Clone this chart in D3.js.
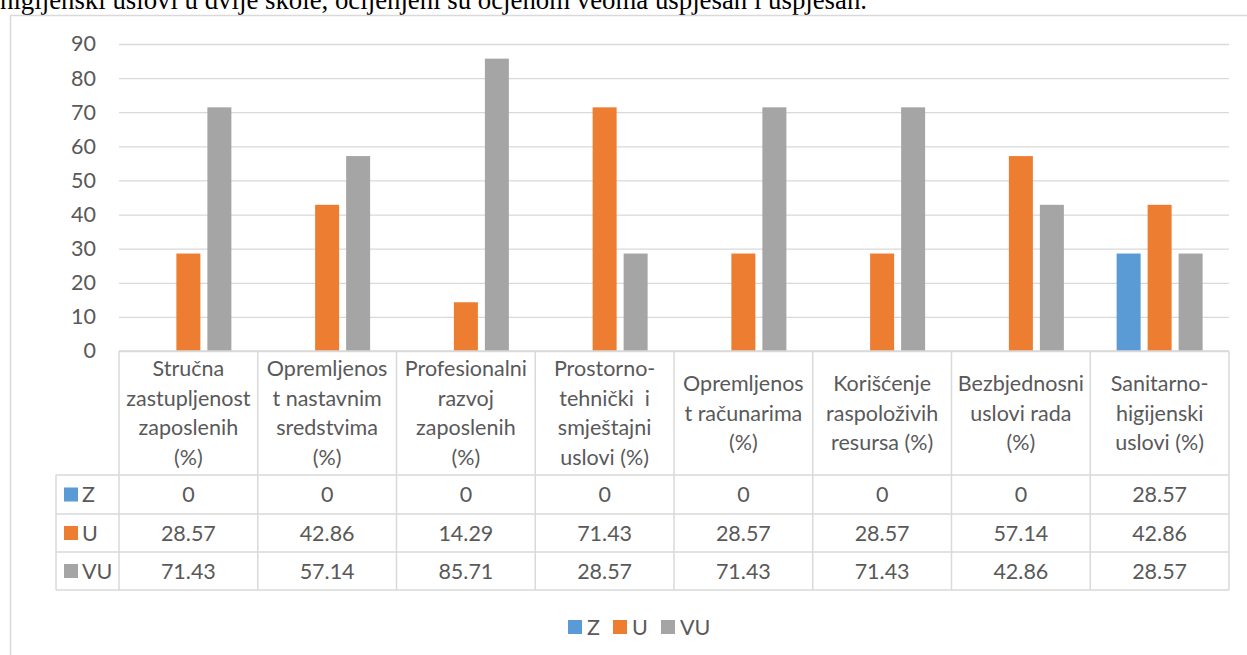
<!DOCTYPE html>
<html><head><meta charset="utf-8">
<script src="https://cdn.jsdelivr.net/npm/d3@7"></script>
<style>html,body{margin:0;padding:0;background:#fff;overflow:hidden}svg{display:block}</style>
</head><body>
<script>
const introText = "higijenski uslovi u dvije škole, ocijenjeni su ocjenom veoma uspješan i uspješan.";
const categories = [
  "Stručna\nzastupljenost\nzaposlenih\n(%)",
  "Opremljenos\nt nastavnim\nsredstvima\n(%)",
  "Profesionalni\nrazvoj\nzaposlenih\n(%)",
  "Prostorno-\ntehnički  i\nsmještajni\nuslovi (%)",
  "Opremljenos\nt računarima\n(%)",
  "Korišćenje\nraspoloživih\nresursa (%)",
  "Bezbjednosni\nuslovi rada\n(%)",
  "Sanitarno-\nhigijenski\nuslovi (%)"
];
const seriesNames = ["Z", "U", "VU"];
const valuesZ  = [0, 0, 0, 0, 0, 0, 0, 28.57];
const valuesU  = [28.57, 42.86, 14.29, 71.43, 28.57, 28.57, 57.14, 42.86];
const valuesVU = [71.43, 57.14, 85.71, 28.57, 71.43, 71.43, 42.86, 28.57];
const yTicks = [0, 10, 20, 30, 40, 50, 60, 70, 80, 90];
const seriesColors = ["#5b9bd5", "#ed7d31", "#a5a5a5"];

const seriesValues = [valuesZ, valuesU, valuesVU];
const W = 1247, H = 655;
const FONT = "Lato, 'Open Sans', sans-serif";
const FS = 21.5;
const TXT = "#595959", GRID = "#d9d9d9";

const svg = d3.select("body").append("svg").attr("width", W).attr("height", H);

// intro text (cut off at top, as in the source page)
svg.append("text").attr("x", 0).attr("y", 9)
  .attr("font-family", "'Liberation Serif', serif").attr("font-size", 26.8)
  .attr("fill", "#000").text(introText);

// chart frame
svg.append("rect").attr("x", 10.5).attr("y", 15.5).attr("width", 1260).attr("height", 700)
  .attr("fill", "none").attr("stroke", GRID).attr("stroke-width", 1.5);

const plotL = 119, plotR = 1229, yTop = 44, yZero = 351;
const x0 = d3.scaleBand().domain(categories).range([plotL, plotR]).padding(0);
const x1 = d3.scaleBand().domain(seriesNames).range([0, x0.bandwidth()])
  .paddingInner(7 / 31).paddingOuter(0.851);
const y = d3.scaleLinear().domain([0, 90]).range([yZero, yTop]);

// gridlines + y labels
const yAxis = d3.axisLeft(y).tickValues(yTicks).tickSize(-(plotR - plotL)).tickPadding(23);
const gy = svg.append("g").attr("transform", `translate(${plotL},0)`).call(yAxis);
gy.select(".domain").remove();
gy.selectAll(".tick line").attr("stroke", GRID).attr("stroke-width", 1.3);
gy.selectAll(".tick text").attr("fill", TXT).attr("font-family", FONT).attr("font-size", FS);

// bars
const groups = svg.append("g").selectAll("g").data(categories).join("g")
  .attr("transform", d => `translate(${x0(d)},0)`);
groups.selectAll("rect").data((d, i) => seriesNames.map((s, j) => ({ s, v: seriesValues[j][i], c: seriesColors[j] })))
  .join("rect")
  .attr("x", d => x1(d.s)).attr("width", x1.bandwidth())
  .attr("y", d => y(d.v)).attr("height", d => yZero - y(d.v))
  .attr("fill", d => d.c);

// data table
const rowY = [351, 475, 514, 552, 590];
const legendL = 56;
const tbl = svg.append("g");
tbl.append("line").attr("x1", plotL).attr("x2", plotR).attr("y1", rowY[0]).attr("y2", rowY[0]);
rowY.slice(1).forEach(yy => tbl.append("line").attr("x1", legendL).attr("x2", plotR).attr("y1", yy).attr("y2", yy));
tbl.append("line").attr("x1", legendL).attr("x2", legendL).attr("y1", rowY[1]).attr("y2", rowY[4]);
categories.forEach(c => tbl.append("line").attr("x1", x0(c)).attr("x2", x0(c)).attr("y1", rowY[0]).attr("y2", rowY[4]));
tbl.append("line").attr("x1", plotR).attr("x2", plotR).attr("y1", rowY[0]).attr("y2", rowY[4]);
tbl.selectAll("line").attr("stroke", GRID).attr("stroke-width", 1.5);

// header labels
const lineH = 29.4;
categories.forEach(c => {
  const lines = c.split("\n");
  const cx = x0(c) + x0.bandwidth() / 2;
  const mid = (rowY[0] + rowY[1]) / 2;
  const t = tbl.append("text").attr("text-anchor", "middle").attr("fill", TXT)
    .attr("font-family", FONT).attr("font-size", FS).attr("xml:space", "preserve");
  lines.forEach((ln, k) => {
    t.append("tspan").attr("x", cx)
      .attr("y", mid + (k - (lines.length - 1) / 2) * lineH)
      .attr("dy", "0.35em").text(ln);
  });
});

// rows
seriesNames.forEach((s, j) => {
  const cy = (rowY[j + 1] + rowY[j + 2]) / 2;
  tbl.append("rect").attr("x", 64).attr("y", cy - 7).attr("width", 14).attr("height", 14).attr("fill", seriesColors[j]);
  tbl.append("text").attr("x", 82).attr("y", cy).attr("dy", "0.35em").attr("fill", TXT)
    .attr("font-family", FONT).attr("font-size", FS).text(s);
  categories.forEach((c, i) => {
    tbl.append("text").attr("x", x0(c) + x0.bandwidth() / 2).attr("y", cy).attr("dy", "0.35em")
      .attr("text-anchor", "middle").attr("fill", TXT).attr("font-family", FONT).attr("font-size", FS)
      .text(String(seriesValues[j][i]));
  });
});

// legend
const legX = [568, 613, 661];
const leg = svg.append("g");
seriesNames.forEach((s, j) => {
  leg.append("rect").attr("x", legX[j]).attr("y", 620).attr("width", 14).attr("height", 14).attr("fill", seriesColors[j]);
  leg.append("text").attr("x", legX[j] + 19).attr("y", 627).attr("dy", "0.35em").attr("fill", TXT)
    .attr("font-family", FONT).attr("font-size", FS).text(s);
});
</script>
</body></html>
